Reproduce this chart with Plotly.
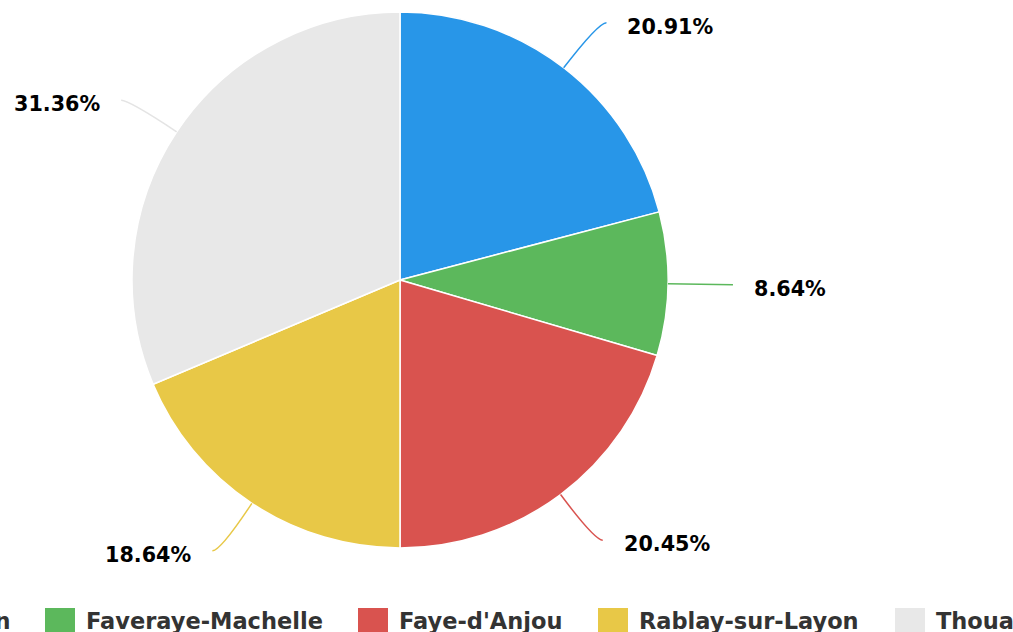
import math
import plotly.graph_objects as go

# ---- data ----
communes = ["Champ-sur-Layon", "Faveraye-Machelle", "Faye-d'Anjou", "Rablay-sur-Layon", "Thouarcé"]
shares = [20.91, 8.64, 20.45, 18.64, 31.36]
colors = ["#2896e8", "#5cb85c", "#d9534f", "#e8c847", "#e8e8e8"]
connector_colors = ["#2896e8", "#5cb85c", "#d9534f", "#e8c847", "#e4e4e4"]

# ---- layout helpers ----
W, H = 1013, 632
CX, CY, R = 400, 280, 268
LABEL_R = 325
legend_box_x = [-252, 45, 358, 598, 895]


def px(x):
    return x / W


def py(y):
    return 1 - y / H


fig = go.Figure(
    go.Pie(
        labels=communes,
        values=shares,
        sort=False,
        direction="clockwise",
        rotation=0,
        marker=dict(colors=colors, line=dict(color="#ffffff", width=1.5)),
        textinfo="none",
        hoverinfo="label+percent",
        showlegend=False,
        domain=dict(x=[px(CX - R), px(CX + R)], y=[py(CY + R), py(CY - R)]),
    )
)

shapes = []
annotations = []
total = sum(shares)
cum = 0.0
for name, v, col, ccol in zip(communes, shares, colors, connector_colors):
    mid = (cum + v / 2) / total * 2 * math.pi
    cum += v
    s, c = math.sin(mid), math.cos(mid)
    side = 1 if s >= 0 else -1
    ex, ey = CX + R * s, CY - R * c
    rx, ry = CX + LABEL_R * s, CY - LABEL_R * c
    tx, ty = rx + 8 * side, ry
    shapes.append(dict(
        type="path", xref="paper", yref="paper",
        path=f"M {px(ex)},{py(ey)} Q {px(rx)},{py(ry)} {px(tx)},{py(ty)}",
        line=dict(color=ccol, width=1.5),
    ))
    annotations.append(dict(
        xref="paper", yref="paper",
        x=px(tx + 19 * side), y=py(ty + 4),
        xanchor="left" if side > 0 else "right", yanchor="middle",
        text=f"{v / total * 100:.2f}%",
        showarrow=False,
        font=dict(family="DejaVu Sans", size=20.7, color="#000000",
                  weight="bold", shadow="1px 1px 1px #fff, -1px -1px 1px #fff, 1px -1px 1px #fff, -1px 1px 1px #fff"),
    ))

# manual legend (single row, overflowing like the reference)
for name, col, bx in zip(communes, colors, legend_box_x):
    shapes.append(dict(
        type="rect", xref="paper", yref="paper",
        x0=px(bx), x1=px(bx + 30), y0=py(608), y1=py(640),
        fillcolor=col, line=dict(width=0),
    ))
    annotations.append(dict(
        xref="paper", yref="paper",
        x=px(bx + 39), y=py(620.5),
        xanchor="left", yanchor="middle",
        text=name, showarrow=False,
        font=dict(family="DejaVu Sans", size=22.5, color="#333333", weight="bold"),
    ))

fig.update_layout(
    width=W, height=H, autosize=False,
    margin=dict(l=0, r=0, t=0, b=0),
    paper_bgcolor="#ffffff", plot_bgcolor="#ffffff",
    shapes=shapes, annotations=annotations,
    showlegend=False,
)

fig.write_html(
    "out.html",
    config={"displayModeBar": False},
    post_script="document.body.style.margin='0';document.body.style.overflow='hidden';",
)
